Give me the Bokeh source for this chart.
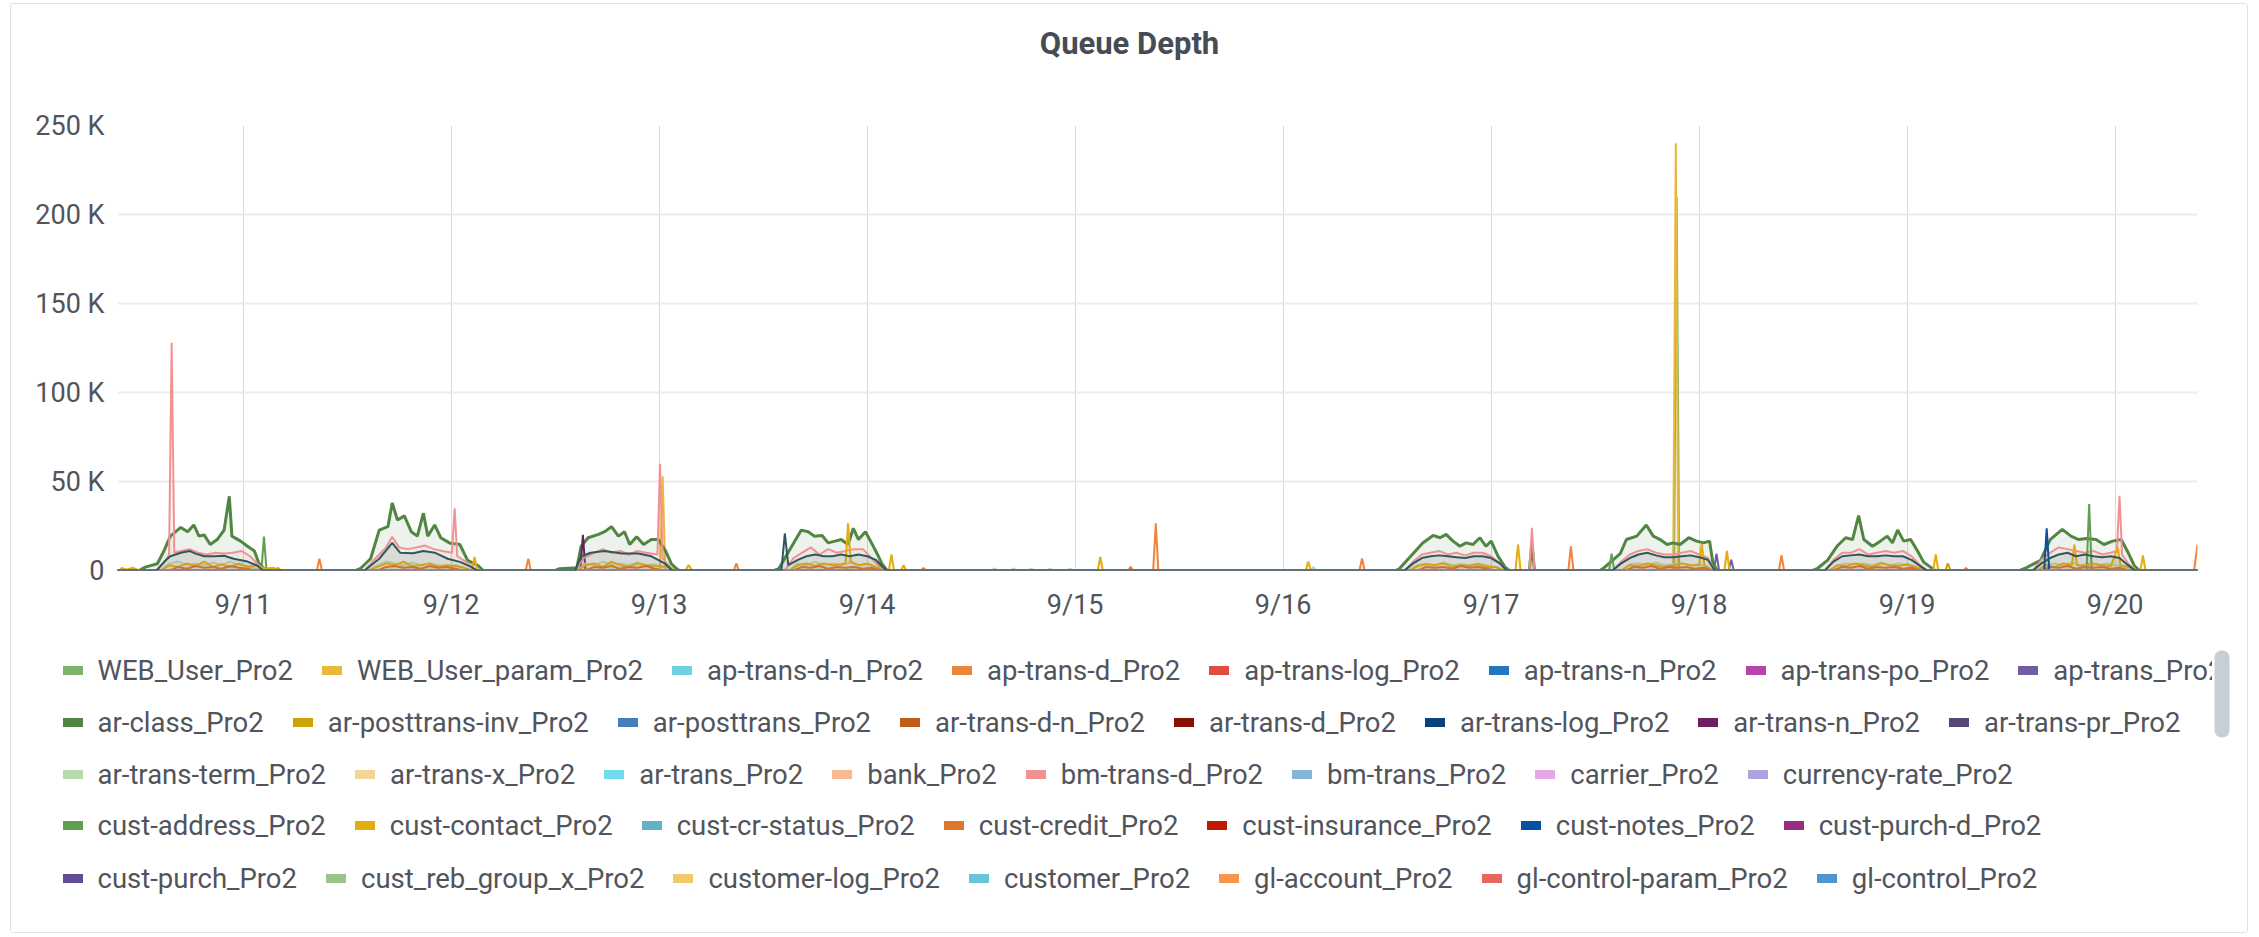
import numpy as np
from bokeh.plotting import figure
from bokeh.models import Range1d, FixedTicker, Legend, LegendItem, BoxAnnotation
from bokeh.layouts import column, row
from bokeh.core.properties import value
from bokeh.embed import file_html
from bokeh.resources import INLINE

FONT = "Roboto"
TEXT = "#52545c"

# ---------------- data ----------------
START = "2019-09-10T09:30"     # left edge of the 10-day window
SPAN_HOURS = 240
day_dates = ["2019-09-11", "2019-09-12", "2019-09-13", "2019-09-14", "2019-09-15",
             "2019-09-16", "2019-09-17", "2019-09-18", "2019-09-19", "2019-09-20"]
day_labels = ["9/11", "9/12", "9/13", "9/14", "9/15", "9/16", "9/17", "9/18", "9/19", "9/20"]
y_ticks = [0, 50000, 100000, 150000, 200000, 250000]
y_labels = ["0", "50 K", "100 K", "150 K", "200 K", "250 K"]

# (hours after START, queue depth in thousands); zero elsewhere
web_user = [(179.6, 0), (179.9, 210), (180.2, 0)]
web_user_param = [(62.6, 0), (62.9, 53), (63.2, 0), (179.5, 0), (179.8, 240), (180.1, 0)]
ap_trans_d = [(23.0, 0), (23.3, 6.6), (23.6, 0), (47.1, 0), (47.4, 6.6), (47.7, 0),
              (71.1, 0), (71.4, 4), (71.7, 0), (92.7, 0), (93.0, 1.5), (93.3, 0),
              (116.6, 0), (116.9, 2), (117.2, 0), (119.5, 0), (119.8, 26.5), (120.1, 0),
              (143.3, 0), (143.6, 6.8), (143.9, 0), (167.4, 0), (167.7, 13.6), (168.0, 0),
              (191.7, 0), (192.0, 8.6), (192.3, 0), (213.0, 0), (213.3, 1.5), (213.6, 0),
              (239.6, 0), (240.0, 14.6)]
ap_trans = [(184.2, 0), (184.5, 9.5), (184.8, 0), (185.9, 0), (186.2, 6), (186.5, 0)]
ar_class = [(2.5, 0), (3.2, 1.9), (4.6, 3.8), (5.4, 11.4), (6.1, 19.3), (7.3, 24.2), (8.1, 21.8),
            (8.8, 25.6), (9.4, 19.3), (10.0, 20), (10.7, 14.6), (11.5, 17.4), (12.3, 22.7),
            (12.9, 41.7), (13.2, 19.3), (14.2, 16.5), (15.0, 13.6), (15.8, 11), (16.3, 4.2),
            (16.9, 1), (17.5, 0),
            (27.5, 0), (28.0, 1), (29.2, 6.6), (30.2, 22.7), (31.2, 24.6), (31.7, 37.9), (32.3, 28.4),
            (33.1, 30.7), (33.9, 21.8), (34.6, 19.3), (35.3, 32.2), (35.8, 19.3), (36.6, 25.6),
            (37.3, 18.4), (38.3, 15.5), (39.5, 14.6), (40.4, 5.7), (41.6, 2.8), (42.2, 0),
            (50.5, 0), (51.0, 1), (53.0, 1.5), (53.5, 13.6), (54.3, 18.4), (55.5, 20.3), (56.2, 21.8),
            (57.0, 24.6), (57.8, 19.3), (58.5, 21.8), (59.1, 14.6), (59.9, 19), (60.7, 14.6),
            (61.6, 17.4), (62.4, 17.4), (63.2, 11.4), (63.9, 3.8), (64.3, 1.9), (64.8, 0),
            (75.8, 0), (76.3, 1), (77.8, 13.6), (78.9, 22.7), (79.7, 21.8), (80.4, 19.3), (81.3, 19.7),
            (82.0, 15.5), (82.8, 16.5), (83.5, 17.4), (84.3, 14.6), (84.9, 23.7), (85.5, 17.4),
            (86.3, 21.8), (87.0, 15.5), (87.8, 8), (88.2, 3.8), (88.8, 0),
            (147.5, 0), (147.9, 1), (149.5, 9.5), (150.6, 15.5), (151.8, 19.7), (152.6, 18.4),
            (153.3, 20.3), (154.1, 16.5), (154.9, 13.6), (155.6, 15.5), (156.4, 14.6), (157.2, 18.4),
            (157.9, 13.6), (158.5, 16.5), (159.3, 8), (160.1, 1.9), (160.6, 0),
            (162.9, 0), (163.2, 15), (163.5, 0),
            (171.0, 0), (171.4, 1), (173.4, 9.5), (174.1, 17.4), (175.3, 19.3), (176.4, 25.6),
            (177.2, 19.3), (178.0, 17.4), (178.8, 14.6), (179.5, 15.5), (180.3, 14.6), (181.3, 18.4),
            (182.2, 16.5), (183.0, 15.5), (183.7, 16.5), (184.1, 3.8), (184.6, 0),
            (195.6, 0), (196.1, 1), (197.3, 5.7), (198.4, 13.6), (199.4, 18.4), (200.2, 17.4),
            (200.9, 30.9), (201.5, 17.4), (202.5, 13.6), (203.4, 16.5), (204.2, 19.3), (204.8, 15.5),
            (205.4, 22.7), (206.1, 16.5), (206.9, 17.4), (207.7, 11), (208.4, 4.7), (209.2, 1.9),
            (209.7, 0),
            (219.5, 0), (220.0, 1), (221.9, 5.7), (223.0, 17.4), (224.4, 23.1), (225.4, 19.3),
            (226.3, 17.4), (227.2, 18), (228.3, 17.4), (229.2, 14.6), (230.2, 16.5), (231.2, 17.4),
            (231.9, 11), (232.7, 2.8), (233.3, 0)]
ar_posttrans_inv = [(18.2, 0), (18.5, 1.5), (18.9, 0), (210.9, 0), (211.2, 4), (211.5, 0)]
ar_trans_n = [(53.4, 0), (53.7, 20), (54.0, 0)]
ar_trans_term = [(5, 0), (6, 4), (7, 5), (8, 3), (9, 4), (10, 3), (11, 4.5), (12, 3), (13, 5), (14, 3),
                 (15, 2.5), (16, 1), (16.6, 0),
                 (29, 0), (30, 3), (31, 5), (32, 4), (33, 3), (34, 4.5), (35, 3), (36, 4), (37, 3),
                 (38, 2.5), (39, 3), (40, 1.5), (40.8, 0),
                 (53, 0), (54, 4), (55, 3), (56, 5), (57, 3.5), (58, 4), (59, 3), (60, 4.5), (61, 3),
                 (62, 3.5), (63, 2), (63.8, 0),
                 (77.5, 0), (78.5, 4), (79.5, 3), (80.5, 5), (81.5, 3), (82.5, 4), (83.5, 3),
                 (84.5, 4.5), (85.5, 3), (86.5, 3.5), (87.5, 2), (88.2, 0),
                 (100.8, 0), (101.2, 1.2), (101.6, 0), (103.0, 0), (103.4, 1.2), (103.8, 0),
                 (105.0, 0), (105.4, 1), (105.8, 0), (107.2, 0), (107.6, 1), (108.0, 0),
                 (109.5, 0), (109.9, 1), (110.3, 0), (137.7, 0), (138.0, 2), (138.3, 0),
                 (149, 0), (150, 3), (151, 4), (152, 3), (153, 4.5), (154, 3), (155, 3.5), (156, 3),
                 (157, 4), (158, 3), (159, 2), (159.8, 0),
                 (173.5, 0), (174.5, 3.5), (175.5, 4), (176.5, 3), (177.5, 4.5), (178.5, 3),
                 (179.5, 3.5), (180.5, 4), (181.5, 3), (182.5, 3.5), (183.5, 2), (184.2, 0),
                 (197.5, 0), (198.5, 3), (199.5, 4), (200.5, 3.5), (201.5, 4), (202.5, 3),
                 (203.5, 4.5), (204.5, 3), (205.5, 4), (206.5, 3), (207.5, 2), (208.3, 0),
                 (221.5, 0), (222.5, 3), (223.5, 4), (224.5, 3), (225.5, 4.5), (226.5, 3),
                 (227.5, 4), (228.5, 3), (229.5, 4), (230.5, 3), (231.5, 2), (232.3, 0)]
bm_trans_d = [(4.5, 0), (5.5, 5), (5.95, 9), (6.25, 128), (6.55, 10), (7.3, 11), (8.3, 12), (9.3, 10),
              (10.3, 9), (11.3, 10), (12.3, 9.5), (13.3, 10), (14.3, 11), (15.3, 8), (16.3, 3), (16.9, 0),
              (28.5, 0), (30, 8), (31, 13), (31.7, 19), (32.5, 13), (33.5, 12), (34.5, 13), (35.5, 14),
              (36.5, 12), (37.5, 11), (38.6, 10), (38.9, 35), (39.2, 8), (40.5, 4), (41.3, 0),
              (52.8, 0), (53.8, 7), (55, 10), (56, 12), (57, 10), (58, 11), (59, 9), (60, 11),
              (61, 10), (62.3, 9), (62.6, 60), (62.9, 7), (63.6, 3), (64.2, 0),
              (77, 0), (78, 7), (79, 10), (80, 13), (81, 9), (82, 12), (83, 10), (84, 11), (85, 12),
              (86, 12), (87, 7), (88, 2), (88.6, 0),
              (148.5, 0), (149.5, 5), (150.5, 9), (151.5, 10), (152.5, 11), (153.5, 9), (154.5, 10),
              (155.5, 8.5), (156.5, 10), (157.5, 10), (158.5, 8), (159.5, 4), (160.3, 0),
              (162.9, 0), (163.2, 24), (163.5, 0),
              (172.5, 0), (173.5, 5), (174.5, 9), (175.5, 11), (176.5, 12), (177.5, 10), (178.5, 9),
              (179.5, 9), (180.5, 10), (181.5, 11), (182.5, 9), (183.5, 7), (184.3, 0),
              (197, 0), (198, 6), (199, 10), (200, 10), (201, 12), (202, 9), (203, 10), (204, 11),
              (205, 10), (206, 11), (207, 8), (208, 3), (208.8, 0),
              (221, 0), (222, 6), (223, 10), (224, 13), (225, 12), (226, 11), (227, 10), (228, 11),
              (229, 9), (230, 10), (230.7, 11), (231.0, 42), (231.3, 9), (232, 4), (232.8, 0)]
cust_address = [(16.6, 0), (16.9, 19), (17.2, 0), (172.1, 0), (172.4, 9.5), (172.7, 0),
                (227.2, 0), (227.5, 37.4), (227.8, 0)]
cust_contact = [(0.2, 0), (0.5, 1.5), (1.0, 0.5), (1.8, 1.5), (2.5, 0),
                (5, 0), (6, 3), (7, 2), (8, 4), (9, 2.5), (10, 5), (11, 2), (12, 3.5), (13, 2), (14, 4),
                (15, 2), (16, 3), (17, 1), (18, 1.5), (18.8, 0),
                (29, 0), (30, 2), (31, 4), (32, 3), (33, 5), (34, 2.5), (35, 3), (36, 4), (37, 2),
                (38, 3), (39, 2.5), (40, 1.5), (40.9, 0), (41.2, 7.6), (41.5, 0),
                (53, 0), (54, 3), (55, 4), (56, 2), (57, 5), (58, 3), (59, 2), (60, 4), (61, 3),
                (62, 2.5), (63.6, 2), (64.4, 0), (65.5, 0), (65.9, 3), (66.3, 0),
                (77.5, 0), (78.5, 3), (79.5, 4), (80.5, 2.5), (81.5, 4), (82.5, 3), (83.5, 3.5),
                (84.0, 4), (84.3, 26.5), (84.6, 5), (85.5, 3), (86.5, 4), (87.5, 2), (88.3, 0),
                (89.0, 0), (89.3, 9), (89.6, 0), (90.4, 0), (90.7, 3), (91.0, 0),
                (113.1, 0), (113.4, 7.6), (113.7, 0), (137.1, 0), (137.4, 5), (137.7, 0),
                (149, 0), (150, 2.5), (151, 3.5), (152, 3), (153, 4), (154, 2), (155, 3), (156, 2.5),
                (157, 3.5), (158, 2), (159, 2), (160, 0), (161.3, 0), (161.6, 14.6), (161.9, 0),
                (173.5, 0), (174.5, 3), (175.5, 2.5), (176.5, 4), (177.5, 3), (178.5, 2), (179.5, 3),
                (180.5, 4), (181.5, 3), (182.5, 3), (182.8, 15), (183.1, 3), (184.0, 0),
                (185.4, 0), (185.7, 11), (186.0, 0),
                (197.5, 0), (198.5, 3), (199.5, 2.5), (200.5, 4), (201.5, 3), (202.5, 2), (203.5, 4),
                (204.5, 3), (205.5, 2.5), (206.5, 3.5), (207.5, 2), (208.5, 0),
                (209.5, 0), (209.8, 9), (210.1, 0),
                (221.5, 0), (222.5, 3), (223.5, 2), (224.5, 4), (225.5, 3), (225.8, 14.6), (226.1, 3),
                (227, 2.5), (228, 4), (229, 3), (230, 2.5), (230.8, 13), (231.1, 3), (232, 2), (233, 0),
                (233.4, 0), (233.7, 8.5), (234.0, 0)]
cust_credit = [(6, 0), (7, 2), (8, 1), (9, 2.5), (10, 1.5), (11, 2), (12, 1), (13, 2.5), (14, 1.5),
               (15, 1), (15.8, 0),
               (30, 0), (31, 2), (32, 2.5), (33, 1.5), (34, 2), (35, 1), (36, 2.5), (37, 1.5), (38, 2),
               (39, 1), (40, 0),
               (54, 0), (55, 2), (56, 1.5), (57, 2.5), (58, 1), (59, 2), (60, 1.5), (61, 2.5), (62, 1),
               (63, 0),
               (78, 0), (79, 2), (80, 1.5), (81, 2.5), (82, 1), (83, 2), (84, 1.5), (85, 2), (86, 1),
               (87, 1.5), (88, 0),
               (150, 0), (151, 2), (152, 1.5), (153, 2), (154, 1), (155, 2.5), (156, 1.5), (157, 2),
               (158, 1), (159, 0),
               (174, 0), (175, 2), (176, 1.5), (177, 2.5), (178, 1), (179, 2), (180, 1.5), (181, 2),
               (182, 1), (183, 1.5), (184, 0),
               (198, 0), (199, 2), (200, 1.5), (201, 2.5), (202, 1), (203, 2), (204, 1.5), (205, 2),
               (206, 1), (207, 1.5), (208, 0),
               (222, 0), (223, 2), (224, 1.5), (225, 2.5), (226, 1), (227, 2), (228, 1.5), (229, 2),
               (230, 1), (231, 1.5), (232, 0)]
cust_notes = [(222.3, 0), (222.6, 23.7), (222.9, 0)]
# series from the scrolled-away part of the legend (dark slate line in every burst)
scrolled_slate = [(4.5, 0), (5.4, 5), (6.1, 8), (7.3, 10), (8.3, 11), (9.0, 9.5), (10.0, 8), (11.2, 8),
                  (12.3, 8.3), (13.4, 6.6), (15.0, 5), (16.1, 2.8), (16.8, 0),
                  (28.5, 0), (30.2, 6.6), (31.7, 15.5), (32.6, 10), (34.1, 9.7), (35.3, 11), (36.6, 10),
                  (38.1, 6.6), (39.6, 4.7), (40.8, 2), (41.5, 0),
                  (52.8, 0), (53.5, 8), (54.6, 10), (56.2, 11), (58.2, 9.5), (60.1, 9.5), (61.6, 8),
                  (63.2, 3.8), (64.0, 0),
                  (76.6, 0), (77.0, 20.8), (77.4, 3), (78.5, 6), (79.5, 8), (80.5, 9), (81.5, 8),
                  (82.5, 8), (83.5, 9), (84.5, 8), (85.5, 9), (86.5, 8), (87.5, 6), (88.3, 2), (88.8, 0),
                  (148.5, 0), (149.5, 4), (150.5, 7), (151.5, 8), (152.5, 8.5), (153.5, 8), (154.5, 7.5),
                  (155.5, 7), (156.5, 8), (157.5, 8), (158.5, 7), (159.5, 4), (160.3, 0),
                  (172.5, 0), (173.5, 4), (174.5, 7), (175.5, 9), (176.5, 10), (177.5, 8.5), (178.5, 7.5),
                  (179.5, 7.5), (180.5, 8), (181.5, 8.5), (182.5, 7.5), (183.5, 6), (184.3, 0),
                  (197, 0), (198, 5), (199, 8), (200, 8.5), (201, 9), (202, 8), (203, 8), (204, 8.5),
                  (205, 8), (206, 8), (207, 6), (208, 2.5), (208.8, 0),
                  (221, 0), (222, 4), (223, 7), (224, 9), (225, 10), (226, 8), (227, 9), (228, 8),
                  (229, 7.5), (230, 8), (231, 7), (232, 3), (232.8, 0)]

series_names = ["WEB_User_Pro2", "WEB_User_param_Pro2", "ap-trans-d-n_Pro2", "ap-trans-d_Pro2",
                "ap-trans-log_Pro2", "ap-trans-n_Pro2", "ap-trans-po_Pro2", "ap-trans_Pro2",
                "ar-class_Pro2", "ar-posttrans-inv_Pro2", "ar-posttrans_Pro2", "ar-trans-d-n_Pro2",
                "ar-trans-d_Pro2", "ar-trans-log_Pro2", "ar-trans-n_Pro2", "ar-trans-pr_Pro2",
                "ar-trans-term_Pro2", "ar-trans-x_Pro2", "ar-trans_Pro2", "bank_Pro2",
                "bm-trans-d_Pro2", "bm-trans_Pro2", "carrier_Pro2", "currency-rate_Pro2",
                "cust-address_Pro2", "cust-contact_Pro2", "cust-cr-status_Pro2", "cust-credit_Pro2",
                "cust-insurance_Pro2", "cust-notes_Pro2", "cust-purch-d_Pro2",
                "cust-purch_Pro2", "cust_reb_group_x_Pro2", "customer-log_Pro2", "customer_Pro2",
                "gl-account_Pro2", "gl-control-param_Pro2", "gl-control_Pro2"]
series_colors = ["#7EB26D", "#EAB839", "#6ED0E0", "#EF843C", "#E24D42", "#1F78C1", "#BA43A9", "#705DA0",
                 "#508642", "#CCA300", "#447EBC", "#C15C17", "#890F02", "#0A437C", "#6D1F62", "#584477",
                 "#B7DBAB", "#F4D598", "#70DBED", "#F9BA8F", "#F29191", "#82B5D8", "#E5A8E2", "#AEA2E0",
                 "#629E51", "#E5AC0E", "#64B0C8", "#E0752D", "#BF1B00", "#0A50A1", "#962D82",
                 "#614D93", "#9AC48A", "#F2C96D", "#65C5DB", "#F9934E", "#EA6460", "#5195CE"]
series_points = {
    "WEB_User_Pro2": web_user, "WEB_User_param_Pro2": web_user_param,
    "ap-trans-d_Pro2": ap_trans_d, "ap-trans_Pro2": ap_trans, "ar-class_Pro2": ar_class,
    "ar-posttrans-inv_Pro2": ar_posttrans_inv, "ar-trans-n_Pro2": ar_trans_n,
    "ar-trans-term_Pro2": ar_trans_term, "bm-trans-d_Pro2": bm_trans_d,
    "cust-address_Pro2": cust_address, "cust-contact_Pro2": cust_contact,
    "cust-credit_Pro2": cust_credit, "cust-notes_Pro2": cust_notes,
}
legend_row_sizes = [8, 8, 8, 7, 7]

# ---------------- build ----------------
HOUR_MS = 3600000.0
start_ms = float(np.datetime64(START).astype("datetime64[ms]").astype(np.int64))
tick_ms = [float(np.datetime64(d).astype("datetime64[ms]").astype(np.int64)) for d in day_dates]


def to_xy(points):
    pts = sorted(points)
    if not pts or pts[0][0] > 0:
        pts = [(0.0, 0.0)] + pts
    if pts[-1][0] < SPAN_HOURS:
        pts = pts + [(float(SPAN_HOURS), 0.0)]
    x = start_ms + np.array([h for h, _ in pts], dtype=float) * HOUR_MS
    y = np.array([v for _, v in pts], dtype=float) * 1000.0
    return x, y


def no_align(fig):
    try:
        fig.frame_align = False
    except Exception:
        pass


def blank(width, height):
    f = figure(width=width, height=height, x_range=Range1d(0, width), y_range=Range1d(0, height),
               x_axis_location=None, y_axis_location=None, min_border=0,
               toolbar_location=None, output_backend="svg")
    f.outline_line_color = None
    f.grid.visible = False
    no_align(f)
    return f


W = 2236

# --- title strip ---
H0 = 80
p0 = figure(width=W, height=H0, title="Queue Depth", x_axis_location=None, y_axis_location=None,
            min_border=0, toolbar_location=None, output_backend="svg")
p0.outline_line_color = None
p0.grid.visible = False
p0.title.align = "center"
p0.title.vertical_align = "middle"
p0.title.text_font = FONT
p0.title.text_font_size = "31px"
p0.title.text_font_style = "bold"
p0.title.text_color = "#464c54"
p0.title.standoff = 39
no_align(p0)

# --- chart ---
H1 = 556
p = figure(width=W, height=H1, x_axis_type="datetime",
           x_range=Range1d(start_ms, start_ms + SPAN_HOURS * HOUR_MS),
           y_range=Range1d(0, 250000),
           toolbar_location=None, output_backend="svg",
           min_border_left=106, min_border_right=50, min_border_top=41, min_border_bottom=70)
p.outline_line_color = None
no_align(p)

all_series = [(n, c, series_points.get(n, [])) for n, c in zip(series_names, series_colors)]
all_series.append((None, "#2F575E", scrolled_slate))

for name, color, pts in all_series:
    x, y = to_xy(pts)
    p.varea(x=x, y1=0, y2=y, fill_color=color, fill_alpha=0.1)
    lw = 3 if name == "ar-class_Pro2" else 2
    p.line(x=x, y=y, line_color=color, line_width=lw)

p.xaxis.ticker = FixedTicker(ticks=tick_ms)
p.xgrid.ticker = FixedTicker(ticks=tick_ms)
p.xaxis.major_label_overrides = {t: lab for t, lab in zip(tick_ms, day_labels)}
p.yaxis.ticker = FixedTicker(ticks=y_ticks)
p.ygrid.ticker = FixedTicker(ticks=y_ticks)
p.yaxis.major_label_overrides = {t: lab for t, lab in zip(y_ticks, y_labels)}
for ax in (p.xaxis, p.yaxis):
    ax.axis_line_color = None
    ax.major_tick_line_color = None
    ax.minor_tick_line_color = None
    ax.major_tick_out = 0
    ax.major_label_text_font = FONT
    ax.major_label_text_font_size = "27px"
    ax.major_label_text_color = TEXT
p.xaxis.major_label_standoff = 18
p.yaxis.major_label_standoff = 13
p.ygrid.grid_line_color = "#ebebeb"
p.ygrid.grid_line_width = 2
p.xgrid.grid_line_color = "#d9d9d9"
p.xgrid.grid_line_width = 1

# --- legend panel (clipped where the scroll bar starts) ---
H2 = 292
W_LEG = 2201
p2 = blank(W_LEG, H2)
swatches = {n: p2.line(x=[-50, -40], y=[-50, -50], line_color=c, line_width=9, line_cap="round")
            for n, c in zip(series_names, series_colors)}

row_centers = [30, 82, 134, 185, 238]
ITEM_H = 34
idx = 0
for size, c in zip(legend_row_sizes, row_centers):
    names = series_names[idx:idx + size]
    idx += size
    items = [LegendItem(label=value(n), renderers=[swatches[n]]) for n in names]
    lg = Legend(items=items, orientation="horizontal", location=(51.5, H2 - c - ITEM_H / 2),
                glyph_width=20, glyph_height=ITEM_H, label_height=ITEM_H, label_standoff=15,
                spacing=29, padding=0, margin=0, border_line_color=None,
                background_fill_alpha=0, label_text_font=FONT, label_text_font_size="27.5px",
                label_text_color=TEXT)
    p2.add_layout(lg, "center")

# --- scroll bar strip ---
p3 = blank(W - W_LEG, H2)
p3.add_layout(BoxAnnotation(left=2, right=17, bottom=H2 - 97, top=H2 - 10,
                            fill_color="#c9ced6", fill_alpha=1, line_color=None, border_radius=7))

layout = column(p0, p, row(p2, p3),
                styles={"border": "1px solid #dde1e8", "border-radius": "3px",
                        "margin-left": "10px", "margin-top": "3px"})
open("out.html", "w").write(file_html(layout, INLINE))
